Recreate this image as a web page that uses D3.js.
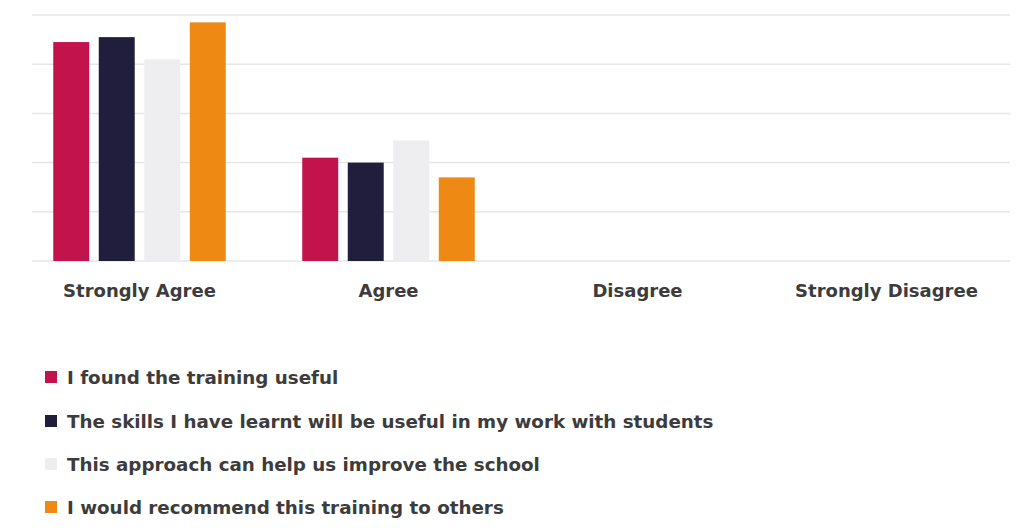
<!DOCTYPE html>
<html>
<head>
<meta charset="utf-8">
<script src="https://cdn.jsdelivr.net/npm/d3@7"></script>
<style>
  html, body { margin: 0; padding: 0; background: #fff; }
  svg { display: block; }
  text { font-family: "DejaVu Sans", sans-serif; font-weight: bold; fill: #3c3c3c; }
</style>
</head>
<body>
<svg id="chart" width="1036" height="528"></svg>
<script>
const categories = ["Strongly Agree", "Agree", "Disagree", "Strongly Disagree"];
const seriesNames = [
  "I found the training useful",
  "The skills I have learnt will be useful in my work with students",
  "This approach can help us improve the school",
  "I would recommend this training to others"
];
const seriesColors = ["#C2134C", "#201E3C", "#EEEEF1", "#EE8A14"];
const trainingUseful   = [44.5, 21.0, 0, 0];
const skillsUseful     = [45.5, 20.0, 0, 0];
const improveSchool    = [41.0, 24.5, 0, 0];
const recommendOthers  = [48.5, 17.0, 0, 0];
const seriesValues = [trainingUseful, skillsUseful, improveSchool, recommendOthers];
const yTicks = [0, 10, 20, 30, 40, 50];

const svg = d3.select("#chart");
const plotLeft = 32, plotRight = 1010, plotTop = 15, plotBottom = 261;

const x = d3.scaleBand().domain(categories).range([15, 1011]).padding(0);
const xInner = d3.scaleBand().domain(seriesNames).range([-86.25, 86.25]).paddingInner(0.21).paddingOuter(0);
const y = d3.scaleLinear().domain([0, 50]).range([plotBottom, plotTop]);

// gridlines
svg.append("g").selectAll("line").data(yTicks).join("line")
  .attr("x1", plotLeft).attr("x2", plotRight)
  .attr("y1", d => y(d)).attr("y2", d => y(d))
  .attr("stroke", "#e6e6e6").attr("stroke-width", 1.5);

// bars
const groups = svg.append("g").selectAll("g").data(categories).join("g")
  .attr("transform", d => `translate(${x(d) + x.bandwidth() / 2},0)`);
groups.selectAll("rect")
  .data((c, ci) => seriesNames.map((s, si) => ({ s, si, v: seriesValues[si][ci] })))
  .join("rect")
  .attr("x", d => xInner(d.s))
  .attr("width", xInner.bandwidth())
  .attr("y", d => y(d.v))
  .attr("height", d => y(0) - y(d.v))
  .attr("fill", d => seriesColors[d.si]);

// x axis labels
const xAxis = d3.axisBottom(x).tickSize(0).tickPadding(0);
const gx = svg.append("g").attr("transform", `translate(0,${plotBottom})`).call(xAxis);
gx.select(".domain").remove();
gx.selectAll("text").attr("dy", null).attr("y", 36)
  .style("font-size", "18px").style("font-family", "'DejaVu Sans', sans-serif")
  .style("font-weight", "bold").attr("fill", "#3c3c3c");

// legend
const legendY = [377, 421, 464, 507];
const lg = svg.append("g").selectAll("g").data(seriesNames).join("g")
  .attr("transform", (d, i) => `translate(45,${legendY[i]})`);
lg.append("rect").attr("x", 0).attr("y", -6).attr("width", 12).attr("height", 12)
  .attr("fill", (d, i) => seriesColors[i]);
lg.append("text").attr("x", 22).attr("y", 0).attr("dy", "0.36em")
  .style("font-size", "18.3px").text(d => d);
</script>
</body>
</html>
